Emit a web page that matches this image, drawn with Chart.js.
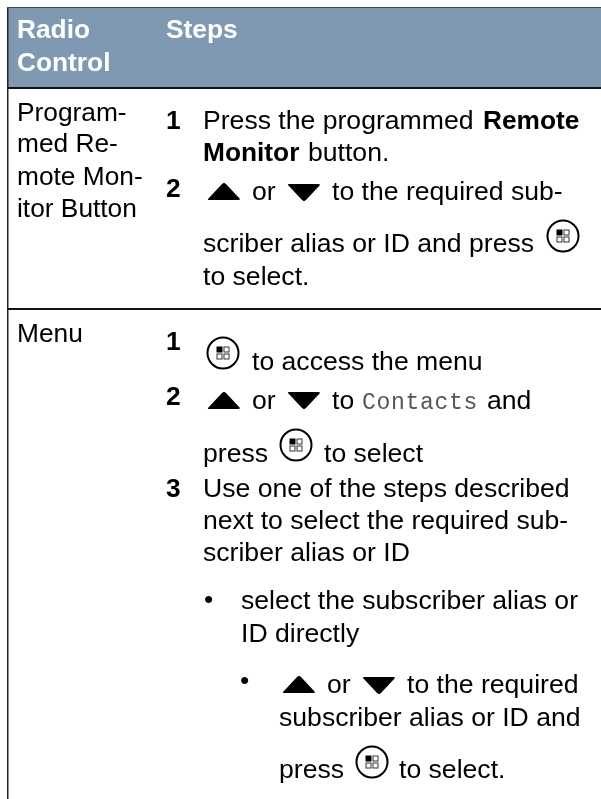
<!DOCTYPE html>
<html>
<head>
<meta charset="utf-8">
<style>
  html, body { margin: 0; padding: 0; background: #fff; overflow: hidden; }
  canvas { display: block; }
</style>
<script src="https://cdn.jsdelivr.net/npm/chart.js@4/dist/chart.umd.js"></script>
</head>
<body>
<canvas id="table" width="601" height="799"></canvas>
<script>
// table rows, heights
const rowNames = ["Header", "Programmed Remote Monitor Button", "Menu"];
const rowHeights = [81, 221, 490];
const rowColors = ["#7f99b3", "#ffffff", "#ffffff"];

const headLines = ["Radio", "Control", "Steps"];
const labelLines = ["Program-", "med Re-", "mote Mon-", "itor Button", "Menu"];
const stepNumbers = ["1", "2", "1", "2", "3"];
const stepLines = [
  "Press the programmed", "button.", "or", "to the required sub-",
  "scriber alias or ID and press", "to select.",
  "to access the menu", "or", "to", "and", "press", "to select",
  "Use one of the steps described", "next to select the required sub-", "scriber alias or ID",
  "select the subscriber alias or", "ID directly",
  "or", "to the required", "subscriber alias or ID and", "press", "to select."
];
const boldWords = ["Remote", "Monitor"];
const menuItem = "Contacts";

const FONT = '"Liberation Sans", Arial, sans-serif';
const SIZE = 26.3;
const STEP_SIZE = 26.6;

// x, baseline for each text above
const headPos = [[17, 38], [17, 71], [166, 38]];
const labelPos = [[17, 121], [17, 152], [17, 185], [17, 217], [17, 342]];
const numberPos = [[166, 129], [166, 197], [166, 350], [166, 405], [166, 497]];
const stepPos = [
  [203, 129], [308, 161], [252, 200], [332, 200],
  [203, 252], [203, 285],
  [252, 370], [252, 409], [332, 409], [487, 409], [203, 462], [324, 462],
  [203, 497], [203, 529], [203, 561],
  [241, 609], [241, 642],
  [327, 693], [407, 693], [279, 726], [279, 778], [399, 778]
];
const boldPos = [[483, 129], [203, 161]];
const menuItemPos = [362, 409];
const bulletPos = [[204, 608], [240, 689]];
const iconPos = [[563, 236], [223, 353], [296, 445], [372, 762]];
const upPos = [[207, 200], [207, 409], [282, 693]];
const downPos = [[287, 184], [287, 392], [362, 677]];

function drawText(ctx, str, p, font) {
  ctx.font = font;
  ctx.fillText(str, p[0], p[1]);
}

function drawUp(ctx, p) {
  ctx.beginPath();
  ctx.moveTo(p[0] + 1, p[1] - 1);
  ctx.lineTo(p[0] + 15, p[1] - 16);
  ctx.quadraticCurveTo(p[0] + 17, p[1] - 18, p[0] + 19, p[1] - 16);
  ctx.lineTo(p[0] + 33, p[1] - 1);
  ctx.quadraticCurveTo(p[0] + 33, p[1], p[0] + 31, p[1]);
  ctx.lineTo(p[0] + 3, p[1]);
  ctx.quadraticCurveTo(p[0], p[1], p[0] + 1, p[1] - 1);
  ctx.fill();
}

function drawDown(ctx, p) {
  ctx.beginPath();
  ctx.moveTo(p[0] + 1, p[1] + 1);
  ctx.lineTo(p[0] + 15, p[1] + 16);
  ctx.quadraticCurveTo(p[0] + 17, p[1] + 18, p[0] + 19, p[1] + 16);
  ctx.lineTo(p[0] + 33, p[1] + 1);
  ctx.quadraticCurveTo(p[0] + 33, p[1], p[0] + 31, p[1]);
  ctx.lineTo(p[0] + 3, p[1]);
  ctx.quadraticCurveTo(p[0], p[1], p[0] + 1, p[1] + 1);
  ctx.fill();
}

function drawIcon(ctx, p) {
  ctx.strokeStyle = "#000";
  ctx.lineWidth = 2;
  ctx.beginPath();
  ctx.arc(p[0], p[1], 15.5, 0, Math.PI * 2);
  ctx.stroke();
  ctx.lineWidth = 1;
  ctx.fillRect(p[0] - 6.5, p[1] - 6.5, 6, 6);
  ctx.strokeStyle = "#333";
  ctx.strokeRect(p[0] + 1, p[1] - 6, 5, 5);
  ctx.strokeRect(p[0] - 6, p[1] + 1, 5, 5);
  ctx.strokeRect(p[0] + 1, p[1] + 1, 5, 5);
}

const textPlugin = {
  id: "tableText",
  afterDatasetsDraw(chart) {
    const ctx = chart.ctx;
    const regular = SIZE + "px " + FONT;
    const stepFont = STEP_SIZE + "px " + FONT;
    const bold = "bold " + SIZE + "px " + FONT;
    ctx.save();
    // left table rule
    ctx.fillStyle = "#222";
    ctx.fillRect(chart.chartArea.left, chart.chartArea.top, 1.5, chart.chartArea.height);
    ctx.textBaseline = "alphabetic";
    ctx.fillStyle = "#fff";
    headLines.forEach((t, i) => drawText(ctx, t, headPos[i], bold));
    ctx.fillStyle = "#000";
    labelLines.forEach((t, i) => drawText(ctx, t, labelPos[i], regular));
    stepNumbers.forEach((t, i) => drawText(ctx, t, numberPos[i], bold));
    stepLines.forEach((t, i) => drawText(ctx, t, stepPos[i], stepFont));
    boldWords.forEach((t, i) => drawText(ctx, t, boldPos[i], bold));
    ctx.save();
    ctx.fillStyle = "#555";
    ctx.letterSpacing = "0.7px";
    drawText(ctx, menuItem, menuItemPos, '23px "Liberation Mono", monospace');
    ctx.restore();
    bulletPos.forEach(p => drawText(ctx, "•", p, regular));
    upPos.forEach(p => drawUp(ctx, p));
    downPos.forEach(p => drawDown(ctx, p));
    iconPos.forEach(p => drawIcon(ctx, p));
    ctx.restore();
  }
};

// cumulative row edges become the y axis ticks, so grid lines are the rules
const rowEdges = [0];
rowHeights.forEach(h => rowEdges.push(rowEdges[rowEdges.length - 1] + h));

new Chart(document.getElementById("table"), {
  type: "bar",
  data: {
    labels: ["table"],
    datasets: rowNames.map((name, i) => ({
      label: name,
      data: [rowHeights[i]],
      backgroundColor: rowColors[i],
      borderWidth: 0,
      barPercentage: 1,
      categoryPercentage: 1
    }))
  },
  options: {
    responsive: false,
    animation: false,
    layout: { padding: { left: 7, top: 7, right: 0, bottom: 0 } },
    plugins: { legend: { display: false }, tooltip: { enabled: false } },
    scales: {
      x: {
        stacked: true,
        ticks: { display: false },
        grid: { display: false, drawTicks: false },
        border: { display: false }
      },
      y: {
        stacked: true,
        reverse: true,
        min: 0,
        max: rowEdges[rowEdges.length - 1],
        afterBuildTicks(axis) { axis.ticks = rowEdges.slice(0, 3).map(v => ({ value: v })); },
        ticks: { display: false },
        grid: {
          drawTicks: false,
          z: 1,
          lineWidth: ctx => (ctx.tick && ctx.tick.value === 0 ? 1 : 2),
          color: ctx => (ctx.tick && ctx.tick.value === 0 ? "#444" : "#111")
        },
        border: { display: false }
      }
    }
  },
  plugins: [textPlugin]
});
</script>
</body>
</html>
